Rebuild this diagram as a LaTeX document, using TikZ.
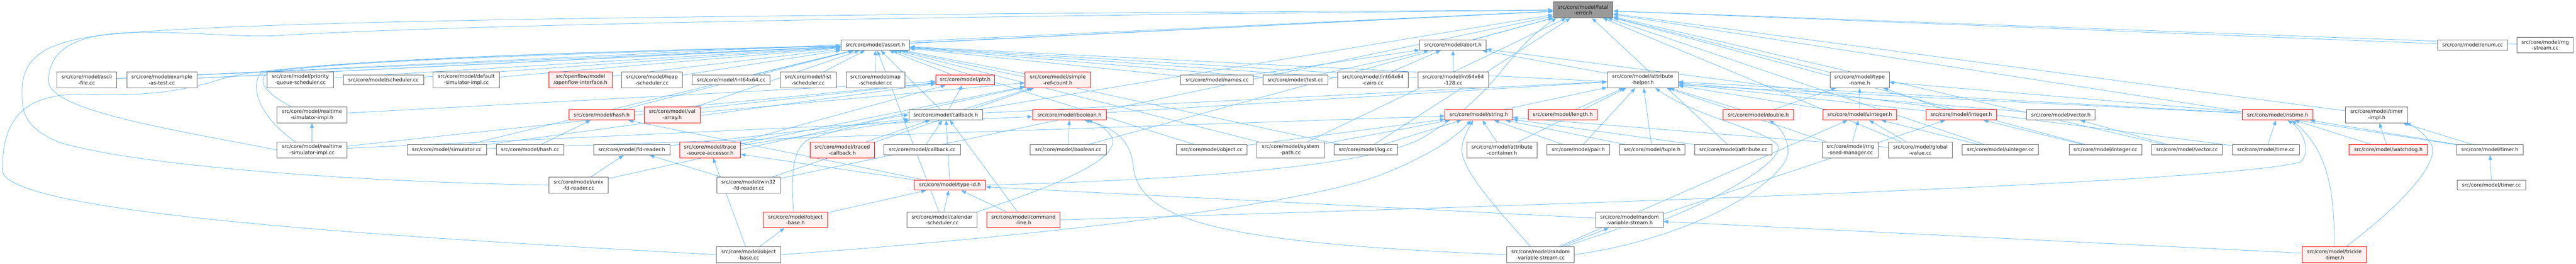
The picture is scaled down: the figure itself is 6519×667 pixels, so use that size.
\documentclass[tikz,border=0pt]{standalone}
\usepackage{fontspec}
\setmainfont{DejaVu Sans}
\usetikzlibrary{arrows.meta}
\definecolor{edgeblue}{HTML}{63B8FF}
\definecolor{boxgray}{HTML}{666666}
\definecolor{rootfill}{HTML}{999999}
\definecolor{redfill}{HTML}{FFF0F0}
\pgfdeclarelayer{back}
\pgfdeclarelayer{bg}
\pgfsetlayers{back,bg,main}
\newcommand\edges[2]{\foreach \tg in {#2}{\draw[edge] (#1) -- (\tg);}}
\begin{document}
\begin{tikzpicture}[x=1pt,y=-1pt,
  box/.style={draw=boxgray, fill=white, line width=1.2pt, inner sep=0pt, align=center,
    font=\fontsize{12.75}{15}\selectfont, text=black!90},
  trunc/.style={box, draw=red, fill=redfill},
  root/.style={box, fill=rootfill},
  one/.style={minimum height=26pt},
  two/.style={minimum height=40pt},
  bw/.style={minimum width=#1pt},
  edge/.style={draw=edgeblue, line width=1pt, -{Triangle[length=12pt,width=9pt]}}
]
\begin{pgfonlayer}{back}
\fill[white] (0,0) rectangle (6519,667);
\end{pgfonlayer}
\useasboundingbox (0,0) rectangle (6519,667);
% row 1
\node[root,two,bw=151] (fatal) at (4006.5,25) {src/core/model/fatal\\-error.h};
% row 2
\node[box,one,bw=174] (assert) at (2215,114) {src/core/model/assert.h};
\node[box,one,bw=168] (abort) at (3677,114) {src/core/model/abort.h};
\node[box,one,bw=177] (enum) at (6257.5,114) {src/core/model/enum.cc};
\node[box,two,bw=142] (rngstream) at (6441,114) {src/core/model/rng\\-stream.cc};
% row 3
\node[box,two,bw=151] (ascii) at (219.5,202) {src/core/model/ascii\\-file.cc};
\node[box,two,bw=177] (example) at (409.5,202) {src/core/model/example\\-as-test.cc};
\node[box,two,bw=168] (prio) at (760,202) {src/core/model/priority\\-queue-scheduler.cc};
\node[box,one,bw=203] (sched) at (970.5,202) {src/core/model/scheduler.cc};
\node[box,two,bw=168] (defsim) at (1180,202) {src/core/model/default\\-simulator-impl.cc};
\node[trunc,two,bw=160] (openflow) at (1469,202) {src/openflow/model\\/openflow-interface.h};
\node[box,two,bw=154] (heap) at (1650,202) {src/core/model/heap\\-scheduler.cc};
\node[box,one,bw=197] (int64cc) at (1850.5,202) {src/core/model/int64x64.cc};
\node[box,two,bw=142] (list) at (2045,202) {src/core/model/list\\-scheduler.cc};
\node[box,two,bw=149] (map) at (2215.5,202) {src/core/model/map\\-scheduler.cc};
\node[trunc,one,bw=149] (ptr) at (2442.5,202) {src/core/model/ptr.h};
\node[trunc,two,bw=166] (simple) at (2677,202) {src/core/model/simple\\-ref-count.h};
\node[box,one,bw=184] (names) at (3080,202) {src/core/model/names.cc};
\node[box,one,bw=165] (test) at (3278.5,202) {src/core/model/test.cc};
\node[box,two,bw=179] (cairo) at (3474.5,202) {src/core/model/int64x64\\-cairo.cc};
\node[box,two,bw=179] (i128) at (3677.5,202) {src/core/model/int64x64\\-128.cc};
\node[box,two,bw=180] (atthelper) at (4157,202) {src/core/model/attribute\\-helper.h};
\node[box,two,bw=150] (typename) at (4706,202) {src/core/model/type\\-name.h};
% row 4
\node[box,two,bw=177] (rsih) at (789.5,290.5) {src/core/model/realtime\\-simulator-impl.h};
\node[trunc,one,bw=165] (hashh) at (1522.5,290.5) {src/core/model/hash.h};
\node[trunc,two,bw=142] (valarray) at (1701,290.5) {src/core/model/val\\-array.h};
\node[box,one,bw=187] (callbackh) at (2393.5,290.5) {src/core/model/callback.h};
\node[trunc,one,bw=187] (booleanh) at (2706.5,290.5) {src/core/model/boolean.h};
\node[trunc,one,bw=171] (stringh) at (3742.5,290.5) {src/core/model/string.h};
\node[trunc,one,bw=174] (lengthh) at (3955,290.5) {src/core/model/length.h};
\node[trunc,one,bw=179] (doubleh) at (4449.5,290.5) {src/core/model/double.h};
\node[trunc,one,bw=187] (uintegerh) at (4706.5,290.5) {src/core/model/uinteger.h};
\node[trunc,one,bw=179] (integerh) at (4963.5,290.5) {src/core/model/integer.h};
\node[box,one,bw=173] (vectorh) at (5215.5,290.5) {src/core/model/vector.h};
\node[trunc,one,bw=178] (nstime) at (5764,290.5) {src/core/model/nstime.h};
\node[box,two,bw=157] (timerimpl) at (6014.5,290.5) {src/core/model/timer\\-impl.h};
% row 5
\node[box,two,bw=177] (rsicc) at (789.5,379) {src/core/model/realtime\\-simulator-impl.cc};
\node[box,one,bw=201] (simcc) at (1130.5,379) {src/core/model/simulator.cc};
\node[box,one,bw=171] (hashcc) at (1341.5,379) {src/core/model/hash.cc};
\node[box,one,bw=193] (fdreader) at (1598.5,379) {src/core/model/fd-reader.h};
\node[trunc,two,bw=154] (trace) at (1797,379) {src/core/model/trace\\-source-accessor.h};
\node[trunc,two,bw=163] (traced) at (2131.5,379) {src/core/model/traced\\-callback.h};
\node[box,one,bw=194] (callbackcc) at (2334,379) {src/core/model/callback.cc};
\node[box,one,bw=193] (booleancc) at (2703.5,379) {src/core/model/boolean.cc};
\node[box,one,bw=179] (objectcc) at (3066.5,379) {src/core/model/object.cc};
\node[box,two,bw=170] (syspath) at (3266,379) {src/core/model/system\\-path.cc};
\node[box,one,bw=160] (logcc) at (3456,379) {src/core/model/log.cc};
\node[box,two,bw=178] (attcont) at (3801,379) {src/core/model/attribute\\-container.h};
\node[box,one,bw=158] (pair) at (3994,379) {src/core/model/pair.h};
\node[box,one,bw=166] (tuple) at (4181,379) {src/core/model/tuple.h};
\node[box,one,bw=195] (attcc) at (4386.5,379) {src/core/model/attribute.cc};
\node[box,two,bw=141] (rngseed) at (4682.5,379) {src/core/model/rng\\-seed-manager.cc};
\node[box,two,bw=162] (global) at (4860,379) {src/core/model/global\\-value.cc};
\node[box,one,bw=193] (uintcc) at (5062.5,379) {src/core/model/uinteger.cc};
\node[box,one,bw=184] (intcc) at (5328,379) {src/core/model/integer.cc};
\node[box,one,bw=179] (veccc) at (5534.5,379) {src/core/model/vector.cc};
\node[box,one,bw=169] (timecc) at (5734.5,379) {src/core/model/time.cc};
\node[trunc,one,bw=198] (watchdog) at (6044,379) {src/core/model/watchdog.h};
\node[box,one,bw=168] (timerh) at (6301,379) {src/core/model/timer.h};
% row 6
\node[box,two,bw=150] (unix) at (1464,468) {src/core/model/unix\\-fd-reader.cc};
\node[box,two,bw=160] (win32) at (1894,468) {src/core/model/win32\\-fd-reader.cc};
\node[trunc,one,bw=180] (typeid) at (2404,468) {src/core/model/type-id.h};
\node[box,one,bw=174] (timercc) at (6305,468) {src/core/model/timer.cc};
% row 7
\node[trunc,two,bw=162] (objbaseh) at (2013,556) {src/core/model/object\\-base.h};
\node[box,two,bw=178] (calendar) at (2384,556) {src/core/model/calendar\\-scheduler.cc};
\node[trunc,two,bw=186] (cmdline) at (2590,556) {src/core/model/command\\-line.h};
\node[box,two,bw=170] (rvsh) at (4124,556) {src/core/model/random\\-variable-stream.h};
% row 8
\node[box,two,bw=163] (objbasecc) at (1894.5,644) {src/core/model/object\\-base.cc};
\node[box,two,bw=171] (rvscc) at (3898.5,644) {src/core/model/random\\-variable-stream.cc};
\node[trunc,two,bw=163] (trickle) at (5907.5,644) {src/core/model/trickle\\-timer.h};

\begin{pgfonlayer}{bg}
\edges{abort}{fatal}
\edges{assert}{fatal}
\edges{enum}{fatal}
\edges{rngstream}{fatal}
\edges{ascii}{fatal,assert}
\edges{example}{fatal,assert}
\edges{prio}{assert}
\edges{sched}{assert}
\edges{defsim}{assert}
\edges{openflow}{assert}
\edges{heap}{assert}
\edges{int64cc}{assert}
\edges{list}{assert}
\edges{map}{assert}
\edges{ptr}{assert}
\edges{simple}{assert}
\edges{names}{assert,abort}
\edges{test}{assert,abort}
\edges{cairo}{assert,abort}
\edges{i128}{assert,abort}
\edges{atthelper}{abort}
\edges{typename}{fatal}
\edges{rsih}{ptr}
\edges{hashh}{assert,ptr}
\edges{valarray}{assert,simple}
\edges{callbackh}{ptr,simple,atthelper,fatal,assert}
\edges{booleanh}{atthelper}
\edges{stringh}{atthelper}
\edges{lengthh}{atthelper}
\edges{doubleh}{atthelper,typename}
\edges{uintegerh}{typename,atthelper}
\edges{integerh}{typename,atthelper}
\edges{vectorh}{atthelper}
\edges{nstime}{assert,atthelper,typename}
\edges{timerimpl}{fatal}
\edges{rsicc}{rsih,ptr,booleanh}
\edges{simcc}{assert,ptr,stringh}
\edges{hashcc}{hashh}
\edges{fdreader}{callbackh}
\edges{trace}{callbackh,ptr,simple}
\edges{traced}{callbackh}
\edges{callbackcc}{callbackh}
\edges{booleancc}{booleanh,fatal}
\edges{objectcc}{assert,stringh}
\edges{syspath}{assert,fatal,stringh}
\edges{logcc}{assert,fatal,stringh}
\edges{attcont}{stringh,atthelper}
\edges{pair}{stringh,atthelper}
\edges{tuple}{atthelper,stringh}
\edges{attcc}{fatal,stringh}
\edges{rngseed}{atthelper,uintegerh}
\edges{global}{uintegerh,fatal,stringh}
\edges{uintcc}{uintegerh,fatal}
\edges{intcc}{integerh,fatal}
\edges{veccc}{vectorh,fatal}
\edges{timecc}{nstime,abort}
\edges{watchdog}{nstime,timerimpl}
\edges{timerh}{timerimpl,fatal,nstime}
\edges{timercc}{timerh}
\edges{unix}{fdreader,simple}
\edges{win32}{fdreader,fatal,simple}
\edges{typeid}{callbackh,hashh,trace}
\edges{objbaseh}{typeid}
\edges{calendar}{typeid,assert}
\edges{cmdline}{typeid,callbackh}
\edges{rvsh}{typeid}
\edges{objbasecc}{objbaseh,trace}
\edges{rvscc}{rvsh,integerh,uintegerh}
\edges{trickle}{rvsh}
% curved connectors
\draw[edge] (rsicc.west) .. controls (450,330) and (123,280) .. (123,205)
  .. controls (123,120) and (200,85) .. (340,82)
  .. controls (500,80) and (600,95) .. (702,90)
  .. controls (1200,60) and (2500,40) .. (fatal);
\draw[edge] (unix.west) .. controls (900,460) and (350,420) .. (150,360)
  .. controls (56,320) and (56,280) .. (56,230)
  .. controls (56,140) and (120,100) .. (300,85)
  .. controls (600,60) and (1200,40) .. (fatal);
\draw[edge] (objbasecc.west) .. controls (1000,600) and (6,540) .. (6,430)
  .. controls (6,300) and (60,240) .. (200,238)
  .. controls (350,244) and (450,235) .. (560,200)
  .. controls (650,172) and (900,150) .. (assert);
\draw[edge] ([xshift=-52pt]rsih.north) .. controls (660,230) and (640,190) .. (700,178)
  .. controls (900,150) and (1500,130) .. (assert);
\draw[edge] ([xshift=-42pt]rsicc.north) .. controls (660,300) and (630,220) .. (660,185)
  .. controls (900,150) and (1500,130) .. (assert);
\draw[edge] (rvscc.east) .. controls (4300,600) and (4530,450) .. (4525,380)
  .. controls (4522,340) and (4500,320) .. ([xshift=28pt]doubleh.south);
\draw[edge] (rvsh.east) .. controls (4400,480) and (4510,400) .. (4500,370)
  .. controls (4480,330) and (4300,300) .. ([xshift=32pt]atthelper.south);
\draw[edge] (rvscc.west) .. controls (3100,615) and (2880,560) .. (2868,420)
  .. controls (2860,340) and (2800,320) .. ([xshift=45pt]booleanh.south);
\draw[edge] (calendar.north east) .. controls (2700,460) and (2830,400) .. (2815,350)
  .. controls (2800,320) and (2770,310) .. ([xshift=38pt]booleanh.south);
\draw[edge] ([xshift=-5pt]objbaseh.north) .. controls (2000,420) and (2010,360) .. (2060,348)
  .. controls (2150,320) and (2230,300) .. (callbackh.west);
\draw[edge] (objbasecc.east) .. controls (2600,600) and (3300,520) .. (3500,440)
  .. controls (3650,380) and (3700,330) .. ([xshift=-20pt]stringh.south);
\draw[edge] ([xshift=-25pt]rvscc.north) .. controls (3780,520) and (3690,420) .. (3700,370)
  .. controls (3705,340) and (3720,320) .. ([xshift=-15pt]stringh.south);
\draw[edge] (typeid.east) .. controls (3000,455) and (3500,420) .. (3610,342)
  .. controls (3800,230) and (3800,140) .. ([xshift=8pt]fatal.south west);
\draw[edge] (cmdline.east) .. controls (3500,530) and (5600,470) .. (5820,410)
  .. controls (5850,390) and (5830,330) .. ([xshift=25pt]nstime.south);
\draw[edge] (trickle.north) .. controls (5908,480) and (5890,380) .. ([xshift=36pt]nstime.south);
\draw[edge] ([xshift=30pt]trickle.north) .. controls (6100,500) and (6180,400) .. (6150,360)
  .. controls (6130,330) and (6100,315) .. ([xshift=-5pt]timerimpl.south east);
\end{pgfonlayer}
\end{tikzpicture}
\end{document}
